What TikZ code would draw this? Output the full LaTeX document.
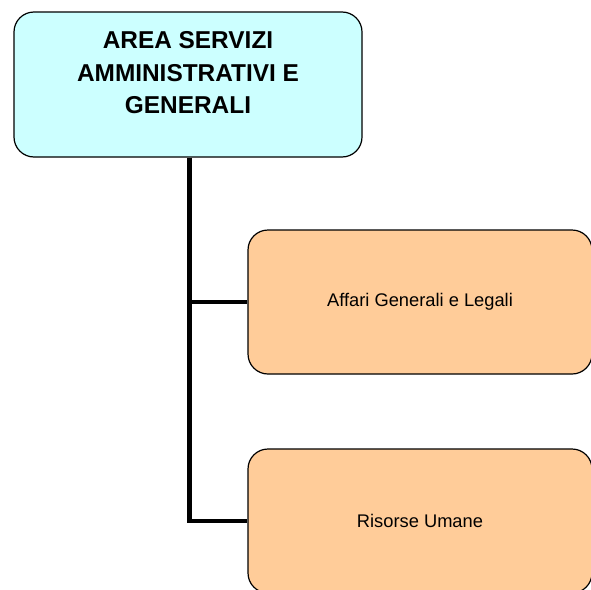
\documentclass[tikz,border=0pt]{standalone}
\usepackage{fontspec}
\setmainfont{Liberation Sans}
\definecolor{topfill}{HTML}{CCFFFF}
\definecolor{subfill}{HTML}{FFCC99}
\begin{document}
\begin{tikzpicture}[x=1pt,y=-1pt,
  box/.style={draw=black, line width=1.2pt, rounded corners=20pt, inner sep=0pt},
  topbox/.style={box, fill=topfill, minimum width=348pt, minimum height=145pt},
  subbox/.style={box, fill=subfill, minimum width=344pt, minimum height=144pt,
    font=\fontsize{18.3}{22}\selectfont},
  title/.style={inner sep=0pt, align=center, font=\bfseries\fontsize{24.4}{32.5}\selectfont},
  conn/.style={draw=black, line width=4.8pt}]
\useasboundingbox (0,0) rectangle (591,589);
\clip (0,0) rectangle (591,589);
\node[topbox] (top) at (188,84.5) {};
\node[title, anchor=north] (toptext) at (188,31.5) {AREA SERVIZI\\AMMINISTRATIVI E\\GENERALI};
\node[subbox] (b2) at (420,302) {Affari Generali e Legali};
\node[subbox] (b3) at (420,521) {Risorse Umane};
\draw[conn] ([xshift=1.5pt]top.south) |- (b3.west);
\draw[conn] ([xshift=1.5pt]top.south) |- (b2.west);
\end{tikzpicture}
\end{document}
